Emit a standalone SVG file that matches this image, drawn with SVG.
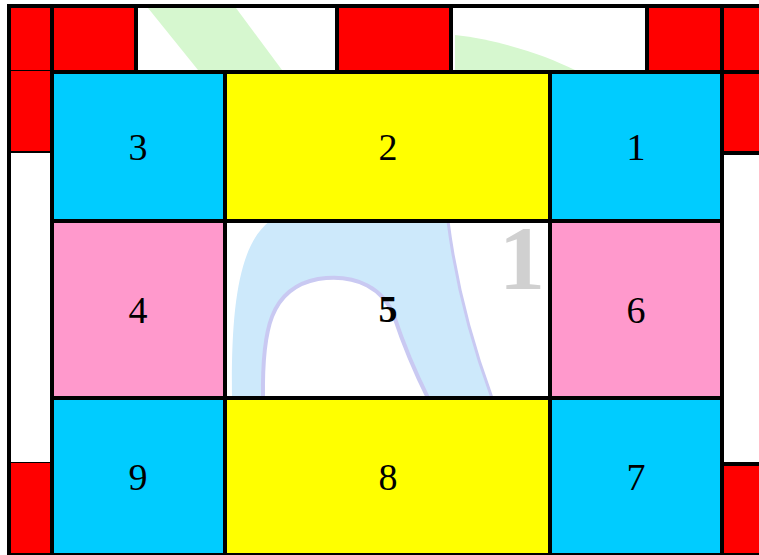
<svg xmlns="http://www.w3.org/2000/svg" width="759" height="555" viewBox="0 0 759 555">
<style>
.red{fill:#ff0000}
.cyan{fill:#00ccff}
.yel{fill:#ffff00}
.pink{fill:#ff99cc}
.wht{fill:#ffffff}
.ln{stroke:#000;stroke-width:4;fill:none}
.thin{stroke:#000;stroke-width:2;fill:none}
.lbl{font-family:"Liberation Serif","Times New Roman",serif;font-size:38px;fill:#000;text-anchor:middle}
.b{font-weight:bold}
</style>
<rect x="0" y="0" width="759" height="555" fill="#ffffff"/>
<g id="strip-top">
<rect class="red" x="11" y="8" width="39" height="62"/>
<rect class="red" x="54" y="8" width="80" height="62"/>
<rect class="wht" x="138" y="8" width="197" height="62"/>
<rect class="red" x="339" y="8" width="110" height="62"/>
<rect class="wht" x="453" y="8" width="192" height="62"/>
<rect class="red" x="649" y="8" width="71" height="62"/>
<rect class="red" x="724" y="8" width="35" height="62"/>
</g>
<g id="strip-left">
<rect class="red" x="11" y="71" width="39" height="80"/>
<rect class="wht" x="11" y="153" width="39" height="309"/>
<rect class="red" x="11" y="463" width="39" height="91"/>
</g>
<g id="strip-right">
<rect class="red" x="724" y="74" width="35" height="77"/>
<rect class="wht" x="724" y="155" width="35" height="307"/>
<rect class="red" x="724" y="466" width="35" height="88"/>
</g>
<g id="watermark" opacity="1">
<polygon points="148,8 236,8 282,70 198,70" fill="#d6f7cf"/>
<path d="M455,35 C500,40 545,55 575,70 L455,70 Z" fill="#d6f7cf"/>
<path d="M232,398 C231,310 238,245 270,221 L448,221 C458,300 478,360 492,398 Z M263,398 C262,330 270,288 318,279 C358,273 384,290 394,316 C404,346 418,378 428,398 Z" fill="#cde9fb" fill-rule="evenodd"/>
<path d="M263,398 C262,330 270,288 318,279 C358,273 384,290 394,316 C404,346 418,378 428,398" fill="none" stroke="#c9c9f2" stroke-width="4"/>
<path d="M448,221 C458,300 478,360 492,398" fill="none" stroke="#c9c9f2" stroke-width="3"/>
</g>
<g id="n3"><rect class="cyan" x="54" y="74" width="169" height="145"/><text class="lbl" x="138" y="160">3</text></g>
<g id="n2"><rect class="yel" x="227" y="74" width="321" height="145"/><text class="lbl" x="388" y="160">2</text></g>
<g id="n1"><rect class="cyan" x="552" y="74" width="168" height="145"/><text class="lbl" x="636" y="160">1</text></g>
<g id="n4"><rect class="pink" x="54" y="223" width="169" height="173"/><text class="lbl" x="138" y="323">4</text></g>
<g id="n5"><text x="522" y="289" font-family="'Liberation Serif',serif" font-size="92" font-weight="bold" fill="#d0d0d0" text-anchor="middle">1</text><text class="lbl b" x="388" y="322">5</text></g>
<g id="n6"><rect class="pink" x="552" y="223" width="168" height="173"/><text class="lbl" x="636" y="323">6</text></g>
<g id="n9"><rect class="cyan" x="54" y="400" width="169" height="154"/><text class="lbl" x="138" y="490">9</text></g>
<g id="n8"><rect class="yel" x="227" y="400" width="321" height="154"/><text class="lbl" x="388" y="490">8</text></g>
<g id="n7"><rect class="cyan" x="552" y="400" width="168" height="154"/><text class="lbl" x="636" y="490">7</text></g>
<g id="grid-lines">
<line class="ln" x1="9" y1="4" x2="9" y2="555"/>
<line class="ln" x1="7" y1="6" x2="759" y2="6"/>
<line class="ln" x1="52" y1="4" x2="52" y2="555"/>
<line class="ln" x1="225" y1="70" x2="225" y2="555"/>
<line class="ln" x1="550" y1="70" x2="550" y2="555"/>
<line class="ln" x1="722" y1="4" x2="722" y2="555"/>
<line class="ln" x1="136" y1="4" x2="136" y2="72"/>
<line class="ln" x1="337" y1="4" x2="337" y2="72"/>
<line class="ln" x1="451" y1="4" x2="451" y2="72"/>
<line class="ln" x1="647" y1="4" x2="647" y2="72"/>
<line class="ln" x1="50" y1="72" x2="759" y2="72"/>
<line class="ln" x1="50" y1="221" x2="724" y2="221"/>
<line class="ln" x1="50" y1="398" x2="724" y2="398"/>
<line class="thin" x1="7" y1="554" x2="759" y2="554"/>
<line x1="11" y1="70.5" x2="50" y2="70.5" stroke="#000" stroke-width="1"/>
<line class="thin" x1="11" y1="152" x2="50" y2="152"/>
<line x1="11" y1="462.5" x2="50" y2="462.5" stroke="#000" stroke-width="1"/>
<line class="ln" x1="724" y1="153" x2="759" y2="153"/>
<line class="ln" x1="724" y1="464" x2="759" y2="464"/>
</g>
</svg>
